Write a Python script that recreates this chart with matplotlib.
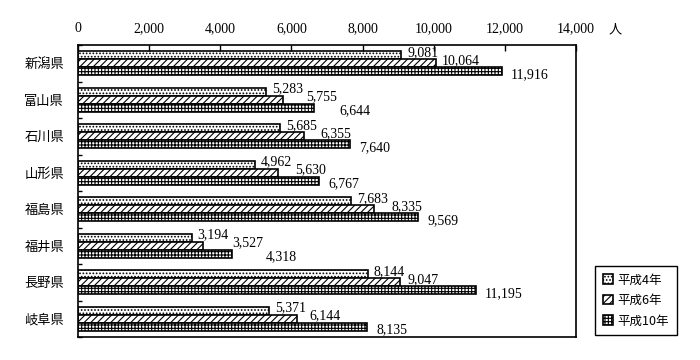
import matplotlib.pyplot as plt
import numpy as np

plt.rcParams['font.family'] = ['Noto Sans CJK JP', 'DejaVu Sans']
plt.rcParams['hatch.linewidth'] = 0.8

# data
prefs = ['新潟県', '富山県', '石川県', '山形県', '福島県', '福井県', '長野県', '岐阜県']
years = ['平成4年', '平成6年', '平成10年']
h4 = [9081, 5283, 5685, 4962, 7683, 3194, 8144, 5371]
h6 = [10064, 5755, 6355, 5630, 8335, 3527, 9047, 6144]
h10 = [11916, 6644, 7640, 6767, 9569, 4318, 11195, 8135]
xticks = [0, 2000, 4000, 6000, 8000, 10000, 12000, 14000]

series = [h4, h6, h10]
hatches = ['.....', '/////', '+++++']

fig = plt.figure(figsize=(7, 3.6), dpi=100)
ax = fig.add_axes([78 / 700, 1 - 337 / 360, 498 / 700, 292 / 360])

y = np.arange(len(prefs))
bh = 0.22
for i, vals in enumerate(series):
    ax.barh(y + (i - 1) * bh, vals, height=bh, color='white',
            edgecolor='black', linewidth=1.2, hatch=hatches[i],
            label=years[i])

ax.set_xlim(0, 14000)
ax.set_ylim(len(prefs) - 0.5, -0.5)

# ticks on top
ax.xaxis.tick_top()
ax.set_xticks(xticks)
ax.set_xticklabels([f'{v:,}' for v in xticks], family='Liberation Serif', fontsize=10)
ax.tick_params(axis='x', direction='in', length=4, width=1, pad=7)

ax.set_yticks(y)
ax.set_yticklabels(prefs, fontsize=9.5)
ax.set_yticks(np.arange(len(prefs) + 1) - 0.5, minor=True)
ax.tick_params(axis='y', which='major', length=0, pad=10)
ax.tick_params(axis='y', which='minor', direction='in', length=3, width=1)

for s in ax.spines.values():
    s.set_linewidth(1.2)

# value labels, shifted right so they don't run into each other
dys = [3, 3, -3]
dxs = [6, 6, 9]
fig.canvas.draw()
r = fig.canvas.get_renderer()
for j in range(len(prefs)):
    prev_end = None
    for i, vals in enumerate(series):
        t = ax.annotate(f'{vals[j]:,}', xy=(vals[j], y[j] + (i - 1) * bh),
                        xytext=(dxs[i], dys[i]), textcoords='offset pixels',
                        ha='left', va='center', family='Liberation Serif',
                        fontsize=10)
        bb = t.get_window_extent(r)
        if prev_end is not None and bb.x0 < prev_end + 3:
            t.xyann = (dxs[i] + prev_end + 3 - bb.x0, dys[i])
            bb = t.get_window_extent(r)
        prev_end = bb.x1

fig.text(615 / 700, 1 - 30 / 360, '人', ha='center', va='center', fontsize=9.5)

leg = fig.legend(loc='upper left', bbox_to_anchor=(595 / 700, 1 - 266 / 360),
                 borderaxespad=0, fancybox=False, edgecolor='black',
                 framealpha=1, fontsize=9, handlelength=0.8, handleheight=0.8,
                 handletextpad=0.4, labelspacing=0.6, borderpad=0.6)
leg.get_frame().set_linewidth(1.0)

fig.savefig('out.png', dpi=100)
